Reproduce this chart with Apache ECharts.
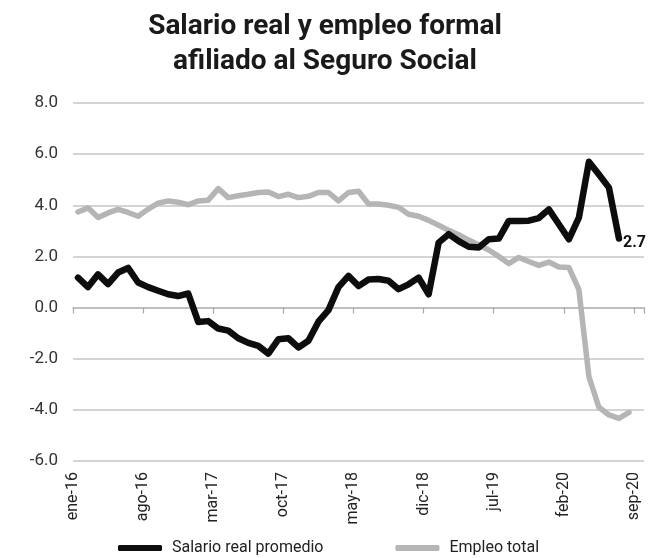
<!DOCTYPE html>
<html>
<head>
<meta charset="utf-8">
<script src="https://cdn.jsdelivr.net/npm/echarts@6/dist/echarts.min.js"></script>
<style>
  html, body { margin: 0; padding: 0; background: #ffffff; }
  #chart { width: 650px; height: 558px; }
</style>
</head>
<body>
<div id="chart"></div>
<script>
// Months ene-16 .. sep-20
const months = [
  'ene-16','feb-16','mar-16','abr-16','may-16','jun-16','jul-16','ago-16','sep-16','oct-16','nov-16','dic-16',
  'ene-17','feb-17','mar-17','abr-17','may-17','jun-17','jul-17','ago-17','sep-17','oct-17','nov-17','dic-17',
  'ene-18','feb-18','mar-18','abr-18','may-18','jun-18','jul-18','ago-18','sep-18','oct-18','nov-18','dic-18',
  'ene-19','feb-19','mar-19','abr-19','may-19','jun-19','jul-19','ago-19','sep-19','oct-19','nov-19','dic-19',
  'ene-20','feb-20','mar-20','abr-20','may-20','jun-20','jul-20','ago-20','sep-20'
];
// Tick-label positions (month boundaries), one more than months
const tickLabels = months.concat(['oct-20']);

const salarioReal = [
  1.17, 0.8, 1.3, 0.92, 1.37, 1.55, 0.98, 0.8, 0.66, 0.52,
  0.45, 0.55, -0.56, -0.53, -0.82, -0.9, -1.2, -1.38, -1.5, -1.8,
  -1.24, -1.2, -1.56, -1.3, -0.55, -0.1, 0.8, 1.24, 0.84, 1.1,
  1.12, 1.05, 0.72, 0.91, 1.17, 0.52, 2.54, 2.87, 2.6, 2.38,
  2.35, 2.67, 2.7, 3.39, 3.39, 3.4, 3.5, 3.84, 3.26, 2.67,
  3.52, 5.7, 5.2, 4.69, 2.7
];
const empleoTotal = [
  3.74, 3.9, 3.52, 3.7, 3.84, 3.72, 3.57, 3.85, 4.08, 4.17,
  4.12, 4.02, 4.17, 4.2, 4.65, 4.3, 4.37, 4.43, 4.5, 4.52,
  4.34, 4.43, 4.3, 4.35, 4.5, 4.5, 4.17, 4.5, 4.55, 4.05,
  4.05, 4.0, 3.92, 3.65, 3.57, 3.41, 3.22, 3.02, 2.85, 2.64,
  2.45, 2.25, 2.0, 1.72, 1.96, 1.8, 1.65, 1.78, 1.59, 1.57,
  0.7, -2.7, -3.9, -4.2, -4.33, -4.1
];

const FONT = 'Roboto, "Liberation Sans", sans-serif';
const chart = echarts.init(document.getElementById('chart'), null, { renderer: 'canvas' });

chart.setOption({
  animation: false,
  backgroundColor: '#ffffff',
  title: {
    text: 'Salario real y empleo formal\nafiliado al Seguro Social',
    left: 'center',
    top: 4,
    textStyle: { fontFamily: FONT, fontSize: 28, fontWeight: 'bold', color: '#1a1a1a', lineHeight: 35 }
  },
  legend: {
    left: 113,
    top: 535,
    icon: 'roundRect',
    itemWidth: 44,
    itemHeight: 6,
    itemGap: 72,
    textStyle: { fontFamily: FONT, fontSize: 16, color: '#222', padding: [0, 0, 0, 5] },
    data: ['Salario real promedio', 'Empleo total']
  },
  grid: { left: 73, right: 6, top: 103, bottom: 97, containLabel: false },
  xAxis: [
    {
      type: 'category',
      data: months,
      boundaryGap: true,
      position: 'bottom',
      axisLine: { show: true, onZero: true, lineStyle: { color: '#b8b8b8', width: 1.5 } },
      axisTick: { show: true, alignWithLabel: false, length: 6, interval: function (i) { return i % 7 === 0; }, lineStyle: { color: '#a8a8a8', width: 1.2 } },
      axisLabel: { show: false },
      splitLine: { show: false }
    },
    {
      type: 'category',
      data: tickLabels,
      boundaryGap: false,
      position: 'bottom',
      axisLine: { show: false, onZero: false },
      axisTick: { show: false },
      axisLabel: { show: true, interval: 6, rotate: 90, margin: 11, fontFamily: FONT, fontSize: 16, color: '#222' },
      splitLine: { show: false }
    }
  ],
  yAxis: {
    type: 'value',
    min: -6,
    max: 8,
    interval: 2,
    axisLine: { show: false },
    axisTick: { show: false },
    axisLabel: { margin: 15, fontFamily: FONT, fontSize: 17, color: '#333', formatter: function (v) { return v.toFixed(1); } },
    splitLine: { show: true, lineStyle: { color: '#c6c6c6', width: 1.5 } }
  },
  series: [
    {
      name: 'Salario real promedio',
      type: 'line',
      xAxisIndex: 0,
      data: salarioReal,
      showSymbol: false,
      symbol: 'none',
      z: 4,
      lineStyle: { color: '#0d0d0d', width: 6.5, join: 'round', cap: 'round' },
      itemStyle: { color: '#0d0d0d' },
      endLabel: {
        show: true,
        distance: 4,
        offset: [0, 4],
        fontFamily: FONT,
        fontSize: 16,
        fontWeight: 'bold',
        color: '#111',
        formatter: function (p) { return Number(p.value).toFixed(1); }
      }
    },
    {
      name: 'Empleo total',
      type: 'line',
      xAxisIndex: 0,
      data: empleoTotal,
      showSymbol: false,
      symbol: 'none',
      z: 3,
      lineStyle: { color: '#b5b5b5', width: 5.5, join: 'round', cap: 'round' },
      itemStyle: { color: '#b5b5b5' }
    }
  ]
});
</script>
</body>
</html>
